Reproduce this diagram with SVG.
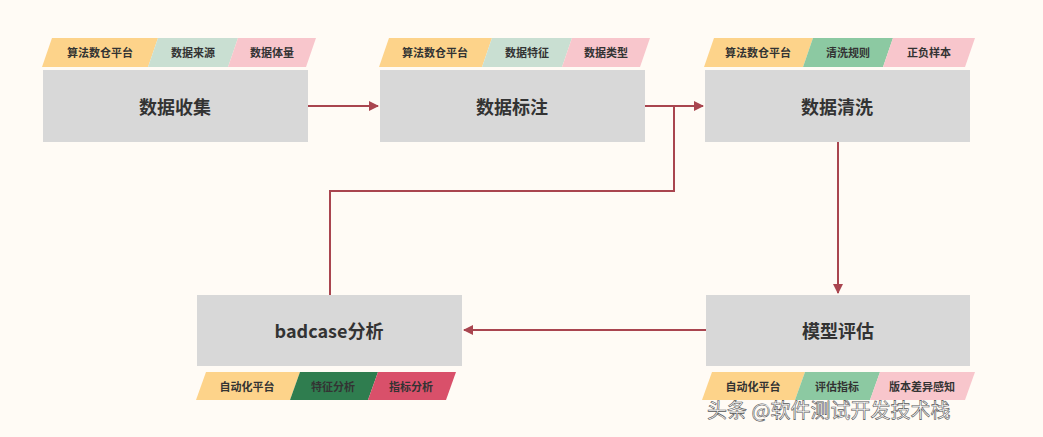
<svg xmlns="http://www.w3.org/2000/svg" width="1043" height="437" viewBox="0 0 1043 437">
<style>
.box{fill:#d8d8d8}
.t{font-family:"Noto Sans CJK SC","Liberation Sans",sans-serif;font-weight:bold;font-size:18px;fill:#333;text-anchor:middle;dominant-baseline:central}
.s{font-family:"Noto Sans CJK SC",sans-serif;font-weight:bold;font-size:11px;fill:#333;text-anchor:middle;dominant-baseline:central}
.y{fill:#fdd38a}.g{fill:#c9dfd2}.p{fill:#f8c6cc}.gm{fill:#8cc9a2}.dg{fill:#2f7d4f}.dr{fill:#d9506a}
.c{stroke:#a9454f;stroke-width:2;fill:none}
</style>
<defs><marker id="a" markerWidth="10" markerHeight="10" refX="9" refY="5" orient="auto" markerUnits="userSpaceOnUse"><path d="M0,0 L10,5 L0,10 Z" fill="#a9454f"/></marker></defs>
<rect width="1043" height="437" fill="#fffbf5"/>
<g id="n1"><rect class="box" x="43" y="70" width="265" height="72"/><text class="t" x="175" y="106">数据收集</text>
<polygon class="y" points="52,38 158,38 148,67 42,67"/><text class="s" x="100" y="52">算法数仓平台</text>
<polygon class="g" points="158,38 238,38 228,67 148,67"/><text class="s" x="193" y="52">数据来源</text>
<polygon class="p" points="238,38 316,38 306,67 228,67"/><text class="s" x="272" y="52">数据体量</text></g>
<g id="n2"><rect class="box" x="380" y="70" width="265" height="72"/><text class="t" x="512" y="106">数据标注</text>
<polygon class="y" points="389,38 492,38 482,67 379,67"/><text class="s" x="435" y="52">算法数仓平台</text>
<polygon class="g" points="492,38 572,38 562,67 482,67"/><text class="s" x="527" y="52">数据特征</text>
<polygon class="p" points="572,38 650,38 640,67 562,67"/><text class="s" x="606" y="52">数据类型</text></g>
<g id="n3"><rect class="box" x="705" y="70" width="265" height="72"/><text class="t" x="837" y="106">数据清洗</text>
<polygon class="y" points="714,38 813,38 803,67 704,67"/><text class="s" x="758" y="52">算法数仓平台</text>
<polygon class="gm" points="813,38 893,38 883,67 803,67"/><text class="s" x="848" y="52">清洗规则</text>
<polygon class="p" points="893,38 975,38 965,67 883,67"/><text class="s" x="929" y="52">正负样本</text></g>
<g id="n4"><rect class="box" x="706" y="295" width="264" height="71"/><text class="t" x="838" y="330">模型评估</text>
<polygon class="y" points="712,372 805,372 795,400 702,400"/><text class="s" x="753" y="386">自动化平台</text>
<polygon class="gm" points="805,372 880,372 870,400 795,400"/><text class="s" x="837" y="386">评估指标</text>
<polygon class="p" points="880,372 975,372 965,400 870,400"/><text class="s" x="922" y="386">版本差异感知</text></g>
<g id="n5"><rect class="box" x="197" y="295" width="265" height="71"/><text class="t" x="329" y="330">badcase分析</text>
<polygon class="y" points="206,372 300,372 290,400 196,400"/><text class="s" x="247" y="386">自动化平台</text>
<polygon class="dg" points="300,372 378,372 368,400 290,400"/><text class="s" x="333" y="386" fill="#1f5a37">特征分析</text>
<polygon class="dr" points="378,372 456,372 446,400 368,400"/><text class="s" x="411" y="386">指标分析</text></g>
<g id="connectors">
<line class="c" x1="308" y1="106" x2="378" y2="106" marker-end="url(#a)"/>
<line class="c" x1="645" y1="106" x2="703" y2="106" marker-end="url(#a)"/>
<polyline class="c" points="330,295 330,191 674,191 674,106"/>
<line class="c" x1="838" y1="142" x2="838" y2="293" marker-end="url(#a)"/>
<line class="c" x1="706" y1="330" x2="464" y2="330" marker-end="url(#a)"/>
</g>
<text x="707" y="418" font-family="Noto Sans CJK SC,sans-serif" font-size="20" fill="#fff" stroke="#555" stroke-width="0.6">头条 @软件测试开发技术栈</text>
</svg>
